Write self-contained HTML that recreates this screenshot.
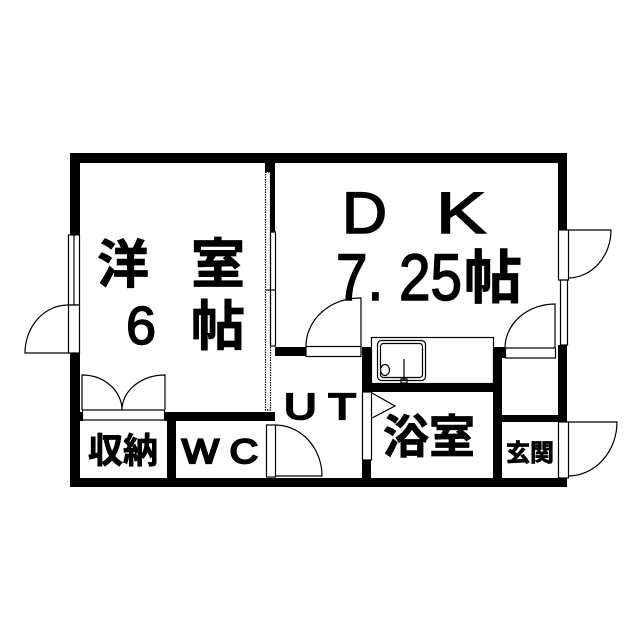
<!DOCTYPE html>
<html><head><meta charset="utf-8"><style>
html,body{margin:0;padding:0;background:#fff;}
svg{display:block;}
text{font-family:"Liberation Sans","Noto Sans CJK JP",sans-serif;fill:#000;stroke:#000;stroke-width:1.6;}
.j{font-family:"Noto Sans CJK JP","Liberation Sans",sans-serif;font-weight:700;stroke-width:0.8;}
.t{stroke-width:2.2;}
</style></head><body>
<svg width="640" height="640" viewBox="0 0 640 640" xmlns="http://www.w3.org/2000/svg">
<g fill="#000">
<rect x="70" y="153" width="497" height="10"/>
<rect x="70" y="478" width="497" height="9"/>
<rect x="70" y="153" width="10" height="82"/>
<rect x="70" y="353" width="10" height="134"/>
<rect x="558" y="153" width="9" height="77"/>
<rect x="558" y="345" width="9" height="77"/>
<rect x="265" y="153" width="10" height="19"/>
<rect x="270" y="163" width="5" height="69"/>
<rect x="165" y="412" width="110" height="9"/>
<rect x="80" y="412" width="3" height="9"/>
<rect x="167" y="421" width="9" height="57"/>
<rect x="275" y="347" width="31" height="9"/>
<rect x="362" y="347" width="9" height="45"/>
<rect x="362" y="460" width="9" height="18"/>
<rect x="371" y="383" width="131" height="9"/>
<rect x="493" y="347" width="9" height="131"/>
<rect x="502" y="347" width="3" height="11"/>
<rect x="502" y="415" width="56" height="7"/>
</g>
<g fill="none" stroke="#000" stroke-width="1.2">
<rect x="265.5" y="172" width="5" height="238" stroke-dasharray="1.5 1"/>
<rect x="270.5" y="232" width="5" height="114"/>
<line x1="266" y1="290" x2="276" y2="290"/>
<rect x="68.5" y="235" width="11" height="70"/>
<line x1="74" y1="235" x2="74" y2="305"/>
<rect x="68.5" y="305" width="11" height="48"/>
<path d="M68,305 A43,48 0 0 0 25,353 L68,353"/>
<rect x="82.5" y="410" width="82" height="10"/>
<path d="M82,410 L82,375 A40,35 0 0 1 122,410"/>
<path d="M165,410 L165,375 A43,35 0 0 0 122,410"/>
<rect x="266.5" y="425" width="9" height="52"/>
<path d="M275,425 A47,51 0 0 1 322,476 L275,476"/>
<rect x="306" y="346.5" width="55" height="10"/>
<path d="M361,347 L361,298 L360,298 A54,48 0 0 0 306,346"/>
<rect x="362.5" y="392" width="9" height="68"/>
<path d="M372,393 L395,406 L372,418"/>
<rect x="371.5" y="337.5" width="122" height="46"/>
<rect x="377.5" y="340.5" width="48" height="40" rx="4"/>
<rect x="380.5" y="343.5" width="42" height="34" rx="3"/>
<ellipse cx="385" cy="370" rx="4.5" ry="5.5"/>
<line x1="404" y1="359" x2="404" y2="381"/>
<rect x="401" y="379" width="6" height="4"/>
<rect x="505.5" y="348" width="50" height="10"/>
<path d="M555,348 L555,304 A50,44 0 0 0 505,348"/>
<rect x="558.5" y="230" width="10" height="50"/>
<path d="M568,230 L611,230 A43,48 0 0 1 568,278"/>
<rect x="560.5" y="280" width="7" height="65"/>
<rect x="558.5" y="422" width="10" height="56"/>
<path d="M568,422 L617,422 A49,54 0 0 1 568,476"/>
</g>
<text class="j" x="97" y="283" font-size="52">洋</text>
<text class="j" x="191" y="283" font-size="54">室</text>
<text x="126" y="344" font-size="54" textLength="30" lengthAdjust="spacingAndGlyphs">6</text>
<text class="j" x="191" y="345" font-size="54">帖</text>
<text x="342" y="233" font-size="58" textLength="45" lengthAdjust="spacingAndGlyphs">D</text>
<text x="436" y="233" font-size="58" textLength="50" lengthAdjust="spacingAndGlyphs">K</text>
<text x="336" y="300" font-size="66" textLength="126" lengthAdjust="spacingAndGlyphs">7. 25</text>
<text class="j" x="464" y="298" font-size="58">帖</text>
<text class="j" x="88" y="463" font-size="35">収納</text>
<text class="t" x="182" y="463" font-size="34" textLength="76" lengthAdjust="spacingAndGlyphs">W C</text>
<text class="t" x="284" y="419" font-size="36" textLength="72" lengthAdjust="spacingAndGlyphs">U T</text>
<text class="j" x="383" y="453" font-size="46">浴室</text>
<text class="j" x="506" y="461" font-size="24">玄関</text>
</svg>
</body></html>
